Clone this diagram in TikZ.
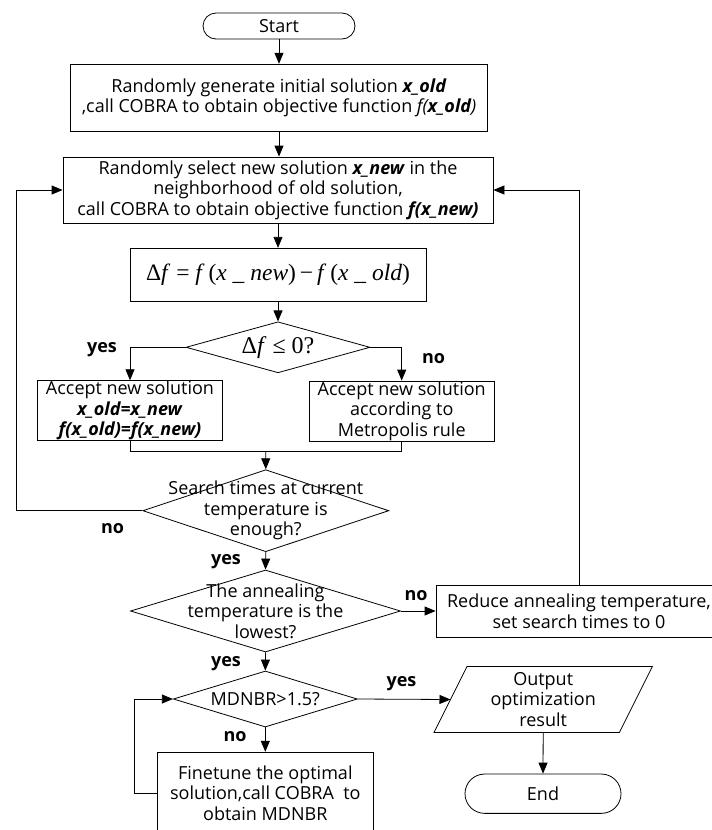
\documentclass[tikz,border=0pt]{standalone}
\usepackage{fontspec}
\setmainfont{Open Sans}
\newfontfamily\tms{Liberation Serif}
\usetikzlibrary{arrows.meta,shapes.geometric,calc}
\begin{document}
\begin{tikzpicture}[x=1pt,y=-1pt,
  txt/.style={font=\fontsize{18}{20.5}\selectfont, align=center},
  base/.style={draw, line width=0.8pt, inner sep=0pt, txt},
  proc/.style={base, rectangle},
  term/.style={base, rectangle},
  dec/.style={base, diamond},
  dtext/.style={txt, inner sep=0pt},
  lab/.style={font=\fontsize{18}{20}\selectfont\bfseries, inner sep=0pt, anchor=base},
  ln/.style={line width=0.8pt},
  arr/.style={ln, -{Triangle[length=11pt,width=9pt]}}
]
\useasboundingbox (0,0) rectangle (712,830);
\fill[white] (0,0) rectangle (712,830);

% nodes
\node[term, minimum width=152pt, minimum height=26pt, rounded corners=13pt] (start) at (279,26) {Start};
\node[proc, minimum width=417pt, minimum height=67pt] (init) at (279,97.7)
  {Randomly generate initial solution \textbf{\textit{x\_old}}\\,call COBRA to obtain objective function \textit{f(\textbf{x\_old})}};
\node[proc, minimum width=430pt, minimum height=66pt] (sel) at (278,190)
  {Randomly select new solution \textbf{\textit{x\_new}} in the\\neighborhood of old solution,\\call COBRA to obtain objective function \textbf{\textit{f(x\_new)}}};
\node[proc, minimum width=296pt, minimum height=53.5pt, font=\tms\fontsize{23.5}{26}\selectfont] (delta) at (278,275)
  {Δ\textit{f} = \textit{f}\,(\textit{x} \_ \textit{new})\,−\,\textit{f}\,(\textit{x} \_ \textit{old})};
\node[dec, minimum width=184pt, minimum height=51pt,
  label={[dtext, font=\tms\fontsize{24}{26}\selectfont]center:Δ\textit{f} ≤ 0?}] (d1) at (278,347.3) {};
\node[proc, minimum width=184.6pt, minimum height=59.6pt] (accL) at (130,410.5)
  {Accept new solution\\\textbf{\textit{x\_old=x\_new}}\\\textbf{\textit{f(x\_old)=f(x\_new)}}};
\node[proc, minimum width=184.7pt, minimum height=60pt] (accR) at (401.7,411)
  {Accept new solution\\according to\\Metropolis rule};
\coordinate (mg) at (265.7,451.7);
\node[dec, minimum width=246pt, minimum height=82pt,
  label={[dtext]center:Search times at current\\temperature is\\enough?}] (d2) at (265.8,510.7) {};
\node[dec, minimum width=270pt, minimum height=82pt,
  label={[dtext]center:The annealing\\temperature is the\\lowest?}] (d3) at (265.5,611) {};
\node[proc, minimum width=286pt, minimum height=52pt] (reduce) at (579,611.2)
  {Reduce annealing temperature,\\set search times to 0};
\node[dec, minimum width=184pt, minimum height=56pt,
  label={[dtext]center:MDNBR>1.5?}] (d4) at (265.3,699) {};
\node[proc, minimum width=216pt, minimum height=82pt] (fine) at (265.3,793.2)
  {Finetune the optimal\\solution,call COBRA\ \ to\\obtain MDNBR};
\node[txt, inner sep=0pt, minimum width=152pt, minimum height=65.6pt] (out) at (543.2,699.5)
  {Output\\optimization\\result};
\draw[ln] (out.north west) -- ([xshift=33pt]out.north east) -- (out.south east) -- ([xshift=-33pt]out.south west) -- cycle;
\coordinate (outin) at ($(out.west)+(-16.5,0)$);
\node[term, minimum width=156pt, minimum height=39.3pt, rounded corners=19.6pt] (end) at (543,793.7) {End};
\coordinate (lx) at (16,0);

% connectors
\draw[arr] (start) -- (init);
\draw[arr] (init.south) -- (init.south |- sel.north);
\draw[arr] (sel) -- (delta);
\draw[arr] (delta) -- (d1);
\draw[arr] (d1.west) -| (accL.north);
\draw[arr] (d1.east) -| (accR.north);
\draw[ln] (accL.south) |- (mg) -| (accR.south);
\draw[arr] (mg) -- (d2.north);
\draw[arr] (d2.west) -- (d2.west -| lx) |- (sel.west);
\draw[arr] (d2.south) -- (d3.north);
\draw[arr] (d3.east) -- (d3.east -| reduce.west);
\draw[arr] (reduce.north) |- (sel.east);
\draw[arr] (d3.south) -- (d4.north);
\draw[arr] (d4.east) -- (outin);
\draw[arr] (d4.south) -- (fine.north);
\draw[arr] (fine.west) -- ++(-23,0) |- (d4.west);
\draw[arr] (out.south) -- (end.north);

% labels
\node[lab] (y1) at (102,352) {yes};
\node[lab] (n1) at (433.5,363) {no};
\node[lab] (n2) at (112.5,533) {no};
\node[lab] (y2) at (226,564) {yes};
\node[lab] (n3) at (416,600) {no};
\node[lab] (y3) at (226,666) {yes};
\node[lab] (y4) at (401.5,686) {yes};
\node[lab] (n4) at (235,741) {no};
\end{tikzpicture}
\end{document}
